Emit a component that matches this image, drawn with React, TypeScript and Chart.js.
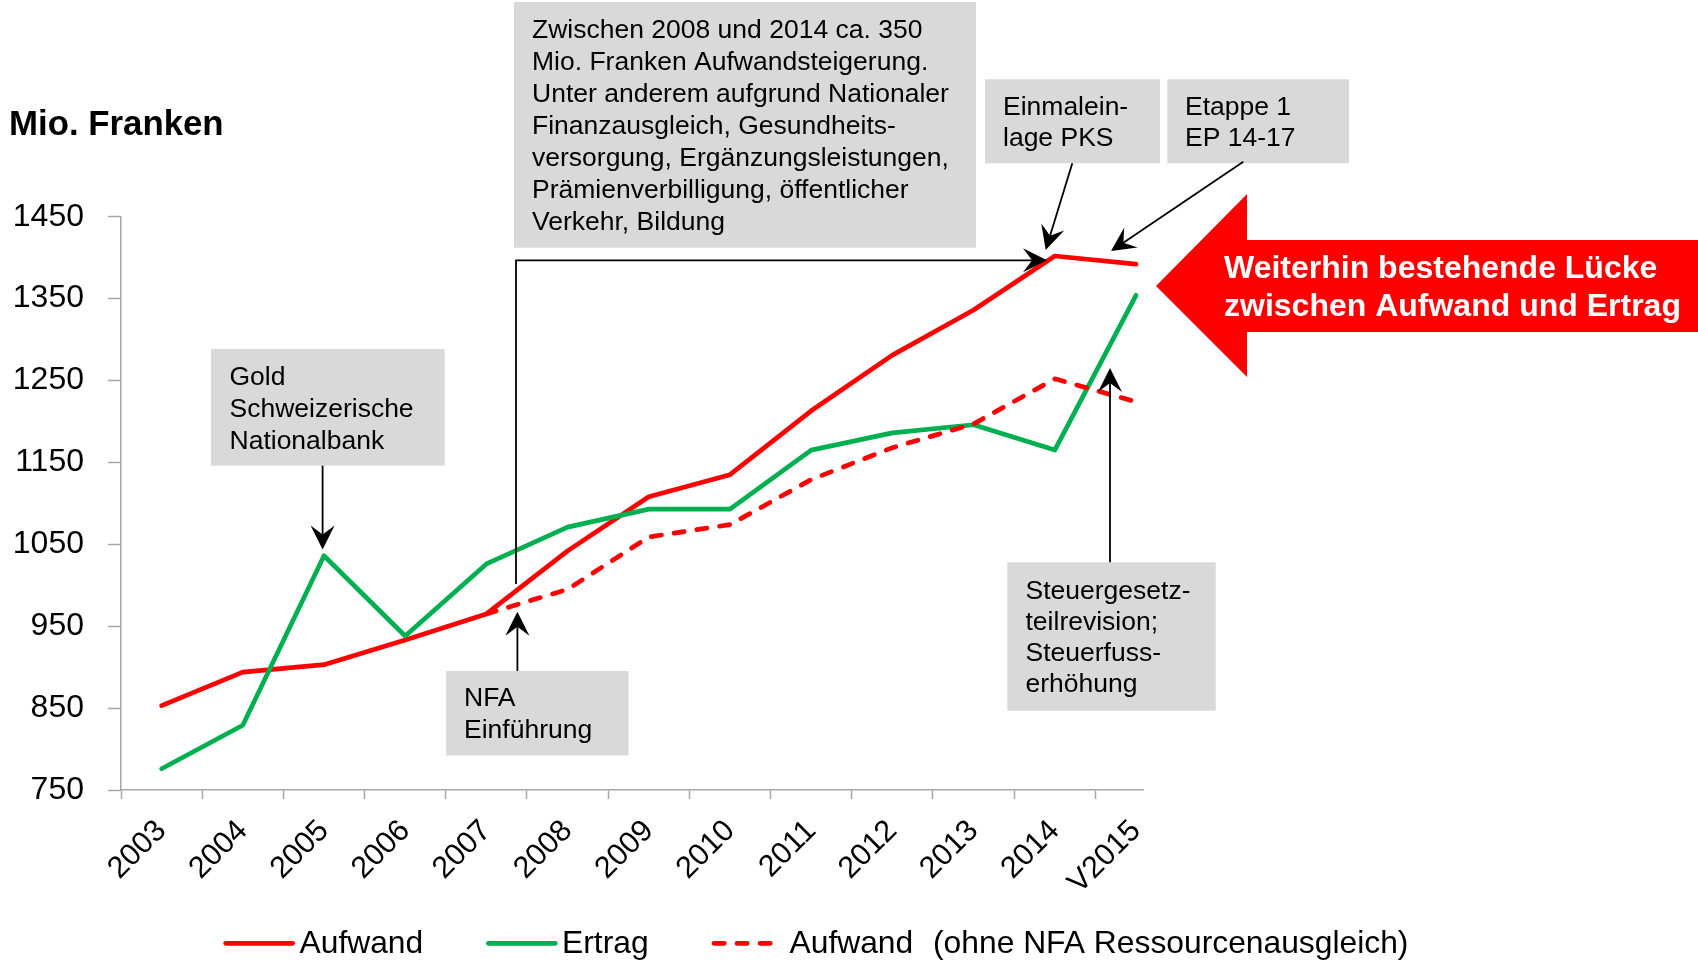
import React, { useEffect, useRef } from "react";
import { Chart, registerables } from "chart.js";

Chart.register(...registerables);

// ---------------- data ----------------
const YEARS = ["2003", "2004", "2005", "2006", "2007", "2008", "2009", "2010", "2011", "2012", "2013", "2014", "V2015"];
const AUFWAND = [853, 894, 903, 933, 965, 1042, 1108, 1135, 1213, 1281, 1336, 1402, 1392];
const ERTRAG = [776, 829, 1036, 938, 1026, 1071, 1093, 1093, 1165, 1186, 1196, 1165, 1354];
const AUFWAND_OHNE_NFA = [null, null, null, null, 965, 995, 1059, 1074, 1129, 1168, 1197, 1252, 1224];
const Y_TICKS = [750, 850, 950, 1050, 1150, 1250, 1350, 1450];
const SERIES_NAMES = ["Aufwand", "Ertrag", "Aufwand"];
const LEGEND_NOTE = "(ohne NFA Ressourcenausgleich)";
const TITLE = "Mio. Franken";

const NOTE_BIG = [
  "Zwischen 2008 und 2014 ca. 350",
  "Mio. Franken Aufwandsteigerung.",
  "Unter anderem aufgrund Nationaler",
  "Finanzausgleich, Gesundheits-",
  "versorgung, Ergänzungsleistungen,",
  "Prämienverbilligung, öffentlicher",
  "Verkehr, Bildung",
];
const NOTE_GOLD = ["Gold", "Schweizerische", "Nationalbank"];
const NOTE_NFA = ["NFA", "Einführung"];
const NOTE_PKS = ["Einmalein-", "lage PKS"];
const NOTE_EP = ["Etappe 1", "EP 14-17"];
const NOTE_STEUER = ["Steuergesetz-", "teilrevision;", "Steuerfuss-", "erhöhung"];
const NOTE_GAP = ["Weiterhin bestehende Lücke", "zwischen Aufwand und Ertrag"];

// ---------------- styles ----------------
const FONT = '"Liberation Sans", Arial, Helvetica, sans-serif';
const RED = "#FF0000";
const GREEN = "#00B050";
const AXIS = "#A6A6A6";
const BOXFILL = "#D9D9D9";
const DASH = [10.3, 12.7];
const NOTE_SIZE = 26.5;

function drawHead(ctx: any, x1: number, y1: number, x2: number, y2: number) {
  const len = 24;
  const half = 12;
  const a = Math.atan2(y2 - y1, x2 - x1);
  const c = Math.cos(a);
  const s = Math.sin(a);
  const bx = x2 - len * c;
  const by = y2 - len * s;
  const nx = x2 - len * 0.62 * c;
  const ny = y2 - len * 0.62 * s;
  ctx.beginPath();
  ctx.moveTo(x2, y2);
  ctx.lineTo(bx - half * s, by + half * c);
  ctx.lineTo(nx, ny);
  ctx.lineTo(bx + half * s, by - half * c);
  ctx.closePath();
  ctx.fill();
  return [nx, ny];
}

function drawArrow(ctx: any, pts: number[][]) {
  const n = pts.length;
  const [x1, y1] = pts[n - 2];
  const [x2, y2] = pts[n - 1];
  ctx.fillStyle = "#000";
  ctx.strokeStyle = "#000";
  ctx.lineWidth = 1.8;
  const [nx, ny] = drawHead(ctx, x1, y1, x2, y2);
  ctx.beginPath();
  ctx.moveTo(pts[0][0], pts[0][1]);
  for (let i = 1; i < n - 1; i++) ctx.lineTo(pts[i][0], pts[i][1]);
  ctx.lineTo(nx, ny);
  ctx.stroke();
}

function drawNote(ctx: any, box: number[], lines: string[], tx: number, ty: number, lh: number) {
  ctx.fillStyle = BOXFILL;
  ctx.fillRect(box[0], box[1], box[2] - box[0], box[3] - box[1]);
  ctx.fillStyle = "#000";
  ctx.font = `${NOTE_SIZE}px ${FONT}`;
  ctx.textAlign = "left";
  ctx.textBaseline = "alphabetic";
  lines.forEach((t, i) => ctx.fillText(t, tx, ty + i * lh));
}

const annotationPlugin = {
  id: "annotations",
  afterDraw(chart: any) {
    const ctx = chart.ctx;
    ctx.save();

    // title
    ctx.fillStyle = "#000";
    ctx.font = `bold 34.8px ${FONT}`;
    ctx.textAlign = "left";
    ctx.textBaseline = "alphabetic";
    ctx.fillText(TITLE, 9, 135);

    // note boxes
    drawNote(ctx, [514, 2, 976, 247.7], NOTE_BIG, 532, 37.5, 32);
    drawNote(ctx, [985, 79.3, 1160, 163.3], NOTE_PKS, 1003, 115, 31);
    drawNote(ctx, [1167.3, 79.3, 1349, 163.3], NOTE_EP, 1185, 115, 31);
    drawNote(ctx, [211, 349, 444.7, 465.7], NOTE_GOLD, 229.5, 385, 32);
    drawNote(ctx, [446.2, 671, 628.5, 755.5], NOTE_NFA, 464, 706, 32);
    drawNote(ctx, [1007.3, 562.3, 1215.7, 710.7], NOTE_STEUER, 1025.5, 598.5, 31.3);

    // arrows
    drawArrow(ctx, [[322.6, 465.7], [322.6, 549.4]]);
    drawArrow(ctx, [[517.4, 671], [517.4, 611.8]]);
    drawArrow(ctx, [[516, 584], [516, 260.3], [1047, 260.3]]);
    drawArrow(ctx, [[1072.3, 163.3], [1045.7, 250]]);
    drawArrow(ctx, [[1243.3, 161.7], [1111, 251]]);
    drawArrow(ctx, [[1110, 562.3], [1110, 368]]);

    // big red arrow
    ctx.fillStyle = RED;
    ctx.beginPath();
    ctx.moveTo(1698, 240);
    ctx.lineTo(1247, 240);
    ctx.lineTo(1247, 194);
    ctx.lineTo(1156, 286);
    ctx.lineTo(1247, 377);
    ctx.lineTo(1247, 332);
    ctx.lineTo(1698, 332);
    ctx.closePath();
    ctx.fill();
    ctx.fillStyle = "#FFFFFF";
    ctx.font = `bold 32px ${FONT}`;
    ctx.fillText(NOTE_GAP[0], 1224, 278.3);
    ctx.fillText(NOTE_GAP[1], 1224, 316.3);

    // legend
    const ds = chart.data.datasets;
    const legendY = 943.3;
    const textY = 952.5;
    const items = [
      { x1: 225.7, x2: 292.7, tx: 299.5, i: 0 },
      { x1: 488.4, x2: 555.3, tx: 562, i: 1 },
      { x1: 714, x2: 771, tx: 789.5, i: 2 },
    ];
    ctx.font = `31.8px ${FONT}`;
    items.forEach((it) => {
      const d = ds[it.i];
      ctx.strokeStyle = d.borderColor;
      ctx.lineWidth = d.borderWidth;
      ctx.lineCap = "round";
      ctx.setLineDash(d.borderDash || []);
      ctx.beginPath();
      ctx.moveTo(it.x1, legendY);
      ctx.lineTo(it.x2, legendY);
      ctx.stroke();
      ctx.setLineDash([]);
      ctx.fillStyle = "#000";
      ctx.fillText(SERIES_NAMES[it.i], it.tx, textY);
    });
    ctx.fillText(LEGEND_NOTE, 933, textY);

    ctx.restore();
  },
};

export default function App() {
  const ref = useRef<HTMLCanvasElement | null>(null);

  useEffect(() => {
    if (!ref.current) return;
    const toPoints = (arr: (number | null)[]) =>
      arr.map((v, i) => ({ x: i, y: v })).filter((p) => p.y !== null);

    const chart = new Chart(ref.current, {
      type: "line",
      data: {
        datasets: [
          {
            label: SERIES_NAMES[0],
            data: toPoints(AUFWAND),
            borderColor: RED,
            backgroundColor: RED,
            borderWidth: 4.7,
            pointRadius: 0,
            tension: 0,
            borderJoinStyle: "round",
            borderCapStyle: "round",
            order: 3,
          },
          {
            label: SERIES_NAMES[1],
            data: toPoints(ERTRAG),
            borderColor: GREEN,
            backgroundColor: GREEN,
            borderWidth: 4.7,
            pointRadius: 0,
            tension: 0,
            borderJoinStyle: "round",
            borderCapStyle: "round",
            order: 2,
          },
          {
            label: SERIES_NAMES[2] + " " + LEGEND_NOTE,
            data: toPoints(AUFWAND_OHNE_NFA),
            borderColor: RED,
            backgroundColor: RED,
            borderWidth: 4.7,
            borderDash: DASH,
            pointRadius: 0,
            tension: 0,
            borderJoinStyle: "round",
            borderCapStyle: "round",
            order: 1,
          },
        ],
      } as any,
      options: {
        responsive: false,
        animation: false,
        layout: { padding: { top: 216.7, right: 554.7, bottom: 61, left: 0 } },
        plugins: {
          legend: { display: false },
          tooltip: { enabled: false },
          title: { display: false },
        },
        scales: {
          x: {
            type: "linear",
            bounds: "data",
            min: -0.5,
            max: 12.09,
            afterBuildTicks: (s: any) => {
              s.ticks = YEARS.map((_, i) => ({ value: i }));
            },
            afterFit: (s: any) => {
              s.height = 110;
              s.paddingLeft = 0;
              s.paddingRight = 0;
            },
            grid: {
              display: true,
              drawOnChartArea: false,
              drawTicks: true,
              tickLength: 9,
              tickColor: AXIS,
              tickWidth: 1.5,
              offset: true,
            },
            border: { display: true, color: AXIS, width: 1.5 },
            ticks: {
              autoSkip: false,
              minRotation: 45,
              maxRotation: 45,
              padding: 14,
              color: "#000",
              font: { family: FONT, size: 30.5 },
              callback: (_v: any, i: number) => YEARS[i],
            },
          },
          y: {
            type: "linear",
            min: 750,
            max: 1450,
            afterBuildTicks: (s: any) => {
              s.ticks = Y_TICKS.map((v) => ({ value: v }));
            },
            afterFit: (s: any) => {
              s.width = 121;
              s.paddingTop = 0;
              s.paddingBottom = 0;
            },
            grid: {
              display: true,
              drawOnChartArea: false,
              drawTicks: true,
              tickLength: 13,
              tickColor: AXIS,
              tickWidth: 1.5,
            },
            border: { display: true, color: AXIS, width: 1.5 },
            ticks: {
              padding: 24,
              color: "#000",
              font: { family: FONT, size: 32 },
              callback: (v: any) => String(v),
            },
          },
        },
      } as any,
      plugins: [annotationPlugin],
    });
    return () => chart.destroy();
  }, []);

  return (
    <div style={{ position: "absolute", left: 0, top: 0, width: 1698, height: 961, background: "#fff" }}>
      <canvas ref={ref} width={1698} height={961} style={{ display: "block", width: 1698, height: 961 }} />
    </div>
  );
}
